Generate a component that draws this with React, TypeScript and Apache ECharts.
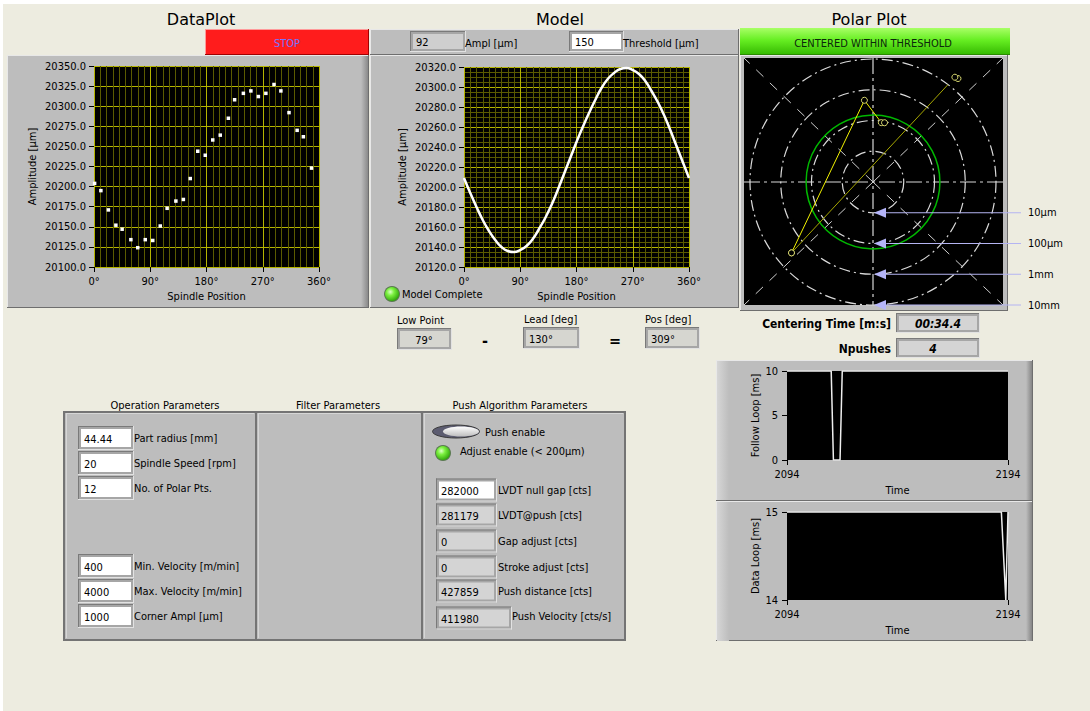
import React, { useEffect, useRef } from "react";
import * as echarts from "echarts";

const FONT = "'DejaVu Sans Condensed', 'DejaVu Sans', sans-serif";
const TITLE_FONT = "'DejaVu Sans', sans-serif";

// ---- data ----
// measured radial amplitude (µm) per spindle position (deg)
const measuredDeg = [1, 11, 23, 35, 45, 59, 70, 82, 94, 106, 117, 131, 143, 154, 166, 178, 190, 202, 215, 225, 239, 251, 263, 275, 288, 299, 312, 325, 335, 348];
const measuredAmp = [20204, 20195, 20171, 20152, 20147, 20134, 20124, 20134, 20133, 20151, 20173, 20182, 20184, 20210, 20244, 20239, 20258, 20264, 20285, 20308, 20316, 20319, 20312, 20316, 20327, 20319, 20292, 20270, 20262, 20223];

// fitted eccentricity model
const modelDeg = [0, 10, 20, 30, 40, 50, 60, 70, 80, 90, 100, 110, 120, 130, 140, 150, 160, 170, 180, 190, 200, 210, 220, 230, 240, 250, 260, 270, 280, 290, 300, 310, 320, 330, 340, 350, 360];
const modelAmp = [20209, 20194, 20180, 20167, 20156, 20147, 20140, 20136, 20135, 20137, 20141, 20148, 20158, 20169, 20182, 20197, 20213, 20229, 20245, 20260, 20274, 20287, 20299, 20308, 20314, 20318, 20319, 20317, 20313, 20306, 20296, 20285, 20272, 20257, 20241, 20225, 20209];

const amplUm = 92;
const thresholdUm = 150;
const lowPointDeg = 79;
const leadDeg = 130;
const posDeg = 309;
const centeringTime = "00:34.4";
const nPushes = 4;

// polar history of the part centre: radius (µm), angle (deg)
const earlierRadius = [22600, 21100, 3250];
const earlierAngle = [50.6, 52, 221];
const recentRadius = [3250, 470, 89, 92];
const recentAngle = [221, 96, 82, 79];

const ringValues = [10, 100, 1000, 10000];
const ringLabels = ["10µm", "100µm", "1mm", "10mm"];

// loop timing traces
const followTime = [2094, 2114, 2115, 2118, 2119, 2194];
const followMs = [10, 10, 0, 0, 10, 10];
const dataTime = [2094, 2191, 2193, 2194];
const dataMs = [15, 15, 14, 15];
const timeTicks = [2094, 2194];

const opValues = ["44.44", "20", "12", "400", "4000", "1000"];
const opLabels = ["Part radius [mm]", "Spindle Speed [rpm]", "No. of Polar Pts.", "Min. Velocity [m/min]", "Max. Velocity [m/min]", "Corner Ampl [µm]"];
const pushValues = ["282000", "281179", "0", "0", "427859", "411980"];
const pushLabels = ["LVDT null gap [cts]", "LVDT@push [cts]", "Gap adjust [cts]", "Stroke adjust [cts]", "Push distance [cts]", "Push Velocity [cts/s]"];

// ---- layout / style ----
const PAGE_BG = "#EDECE0";
const PANEL = "#BDBDBD";
const POLAR_CENTER = [873, 182];
const POLAR_RADIUS = 123;
const OP_ROW_Y = [438, 463, 488, 566, 591, 616];
const PUSH_ROW_Y = [490, 515, 541, 567, 591, 618];

const zip = (a: number[], b: number[]) => a.map((v, i) => [v, b[i]]);

function rect(x: number, y: number, w: number, h: number, fill: any, z = -10, extra: any = {}) {
  return { type: "rect", silent: true, z, shape: { x, y, width: w, height: h }, style: { fill, ...extra } };
}
function line(x1: number, y1: number, x2: number, y2: number, stroke: string, lw = 1, z = -9, dash?: number[]) {
  return { type: "line", silent: true, z, shape: { x1, y1, x2, y2 }, style: { stroke, lineWidth: lw, lineDash: dash } };
}
function txt(x: number, y: number, text: string, size = 11, o: any = {}) {
  const align = o.align || "left";
  return {
    type: "text", silent: true, z: o.z ?? 6, x, y,
    style: {
      text, fill: o.color || "#000",
      font: `${o.italic ? "italic " : ""}${o.bold ? "bold " : ""}${size}px ${o.family || FONT}`,
      textAlign: align, textVerticalAlign: "middle", align, verticalAlign: "middle",
    },
  };
}
function raised(x: number, y: number, w: number, h: number, fill: any = PANEL, z = -10) {
  return [
    rect(x, y, w, h, fill, z),
    line(x, y + 0.5, x + w, y + 0.5, "#E8E8E8", 1, z + 1),
    line(x + 0.5, y, x + 0.5, y + h, "#E8E8E8", 1, z + 1),
    line(x, y + h - 0.5, x + w, y + h - 0.5, "#6E6E6E", 1, z + 1),
    line(x + w - 0.5, y, x + w - 0.5, y + h, "#6E6E6E", 1, z + 1),
  ];
}
function field(x: number, y: number, w: number, h: number, fill: string, z = -6) {
  return [
    rect(x - 3, y - 3, w + 6, h + 6, "#A6A6A6", z),
    line(x - 3, y - 2.5, x + w + 3, y - 2.5, "#7A7A7A", 1, z + 1),
    line(x - 2.5, y - 3, x - 2.5, y + h + 3, "#7A7A7A", 1, z + 1),
    line(x - 3, y + h + 2.5, x + w + 3, y + h + 2.5, "#E2E2E2", 1, z + 1),
    line(x + w + 2.5, y - 3, x + w + 2.5, y + h + 3, "#E2E2E2", 1, z + 1),
    rect(x, y, w, h, fill, z + 2),
  ];
}
function led(cx: number, cy: number, r: number) {
  return [
    { type: "circle", silent: true, z: 4, shape: { cx, cy, r: r + 1 }, style: { fill: "#5A7A50" } },
    {
      type: "circle", silent: true, z: 5, shape: { cx, cy, r },
      style: {
        fill: new echarts.graphic.RadialGradient(0.38, 0.35, 0.75, [
          { offset: 0, color: "#DDFFC8" },
          { offset: 0.35, color: "#7CF040" },
          { offset: 1, color: "#239A00" },
        ]),
      },
    },
  ];
}

function buildGraphics(extra: any[]) {
  const g: any[] = [];
  g.push(rect(0, 0, 1090, 711, "#FFFFFF", -30));
  g.push(rect(3, 4, 1087, 707, PAGE_BG, -29));

  // titles
  g.push(txt(201, 19, "DataPlot", 16, { align: "center", family: TITLE_FONT }));
  g.push(txt(560, 19, "Model", 16, { align: "center", family: TITLE_FONT }));
  g.push(txt(869, 19, "Polar Plot", 16, { align: "center", family: TITLE_FONT }));

  // DataPlot panel + STOP button
  g.push(...raised(7, 55, 362, 253));
  g.push(rect(361, 56, 7, 251, new echarts.graphic.LinearGradient(0, 0, 1, 0, [
    { offset: 0, color: "#BDBDBD" }, { offset: 1, color: "#8A8A8A" },
  ]), -8));
  g.push(rect(205, 29, 164, 26, "#FF1C1C", -8));
  g.push(line(205, 29.5, 369, 29.5, "#FF9A9A", 1, -7));
  g.push(line(205.5, 29, 205.5, 55, "#FF9A9A", 1, -7));
  g.push(line(205, 54.5, 369, 54.5, "#A00000", 1, -7));
  g.push(line(368.5, 29, 368.5, 55, "#A00000", 1, -7));
  g.push(txt(287, 43, "STOP", 11, { align: "center", color: "#7474FF" }));

  // Model panel with its parameter bar
  g.push(...raised(370, 29, 369, 26));
  g.push(...raised(370, 55, 369, 253));
  g.push(...field(413, 34, 50, 15, "#CFCFCF"));
  g.push(txt(416, 42, String(amplUm), 11));
  g.push(txt(465, 43, "Ampl [µm]", 11));
  g.push(...field(572, 34, 49, 15, "#FFFFFF"));
  g.push(txt(575, 42, String(thresholdUm), 11));
  g.push(txt(623, 43, "Threshold [µm]", 11));
  g.push(...led(392, 294, 7));
  g.push(txt(402, 294, "Model Complete", 11));

  // Polar panel
  g.push(rect(740, 28, 270, 27, new echarts.graphic.LinearGradient(0, 0, 0, 1, [
    { offset: 0, color: "#A8FF66" }, { offset: 0.45, color: "#66EE22" }, { offset: 1, color: "#33B800" },
  ]), -8));
  g.push(line(740, 54.5, 1010, 54.5, "#2A8A00", 1, -7));
  g.push(txt(873, 43, "CENTERED WITHIN THRESHOLD", 11, { align: "center", color: "#0C280C" }));
  g.push(...raised(740, 55, 268, 256));
  g.push(rect(744, 58, 259, 247, "#000000", -5));
  const [pcx, pcy] = POLAR_CENTER;
  const axisDash = [16, 4, 3, 4];
  g.push(line(744, pcy, 1003, pcy, "#D8D8D8", 1.2, -1, axisDash));
  g.push(line(pcx, 58, pcx, 305, "#D8D8D8", 1.2, -1, axisDash));
  [[744, 58], [1003, 58], [744, 305], [1003, 305]].forEach(([x, y]) => {
    g.push(line(pcx, pcy, x, y, "#CFCFCF", 1, -1, [10, 9]));
  });

  // Low point - lead = position
  g.push(txt(397, 320, "Low Point", 11));
  g.push(...field(400, 331, 49, 16, "#D6D6D0"));
  g.push(txt(424, 340, `${lowPointDeg}°`, 11, { align: "center" }));
  g.push(txt(485, 340, "-", 16, { align: "center", bold: true }));
  g.push(txt(524, 319, "Lead [deg]", 11));
  g.push(...field(526, 330, 51, 16, "#D6D6D0"));
  g.push(txt(529, 339, `${leadDeg}°`, 11));
  g.push(txt(615, 340, "=", 16, { align: "center", bold: true }));
  g.push(txt(645, 319, "Pos [deg]", 11));
  g.push(...field(648, 330, 49, 16, "#D6D6D0"));
  g.push(txt(651, 339, `${posDeg}°`, 11));

  g.push(txt(891, 324, "Centering Time [m:s]", 12, { align: "right", bold: true }));
  g.push(...field(899, 316, 78, 14, "#D4D4D4"));
  g.push(txt(938, 324, centeringTime, 12, { align: "center", bold: true, italic: true }));
  g.push(txt(891, 349, "Npushes", 12, { align: "right", bold: true }));
  g.push(...field(899, 341, 78, 14, "#D4D4D4"));
  g.push(txt(933, 349, String(nPushes), 12, { align: "center", bold: true, italic: true }));

  // parameter clusters
  g.push(txt(165, 405, "Operation Parameters", 11, { align: "center" }));
  g.push(txt(338, 405, "Filter Parameters", 11, { align: "center" }));
  g.push(txt(520, 405, "Push Algorithm Parameters", 11, { align: "center" }));
  [[64, 192], [256, 166], [422, 203]].forEach(([x, w]) => {
    g.push(rect(x, 412, w, 228, PANEL, -10, { stroke: "#747474", lineWidth: 2 }));
    g.push(line(x + 2, 413.5, x + w - 2, 413.5, "#D6D6D6", 1, -9));
    g.push(line(x + 2.5, 413, x + 2.5, 638, "#D6D6D6", 1, -9));
  });
  opValues.forEach((v, i) => {
    const y = OP_ROW_Y[i];
    g.push(...field(81, y - 9, 50, 18, "#FFFFFF"));
    g.push(txt(84, y + 1, v, 11));
    g.push(txt(134, y, opLabels[i], 11));
  });
  // push enable switch
  g.push({ type: "ellipse", silent: true, z: 3, shape: { cx: 456, cy: 431.5, rx: 23.5, ry: 6.5 }, style: { fill: "#5C5C70", stroke: "#3A3A3A", lineWidth: 1 } });
  g.push({
    type: "ellipse", silent: true, z: 4, shape: { cx: 461, cy: 431.5, rx: 18, ry: 5 },
    style: { fill: new echarts.graphic.LinearGradient(0, 0, 0, 1, [{ offset: 0, color: "#FFFFFF" }, { offset: 1, color: "#BEBEBE" }]) },
  });
  g.push(txt(485, 432, "Push enable", 11));
  g.push(...led(443, 453, 7));
  g.push(txt(460, 451, "Adjust enable (< 200µm)", 11));
  pushValues.forEach((v, i) => {
    const y = PUSH_ROW_Y[i];
    const last = i === pushValues.length - 1;
    g.push(...field(439, y - 8.5, last ? 70 : 55, 17, i === 0 ? "#FFFFFF" : "#D4D4D4"));
    g.push(txt(441, y + 1, v, 11));
    g.push(txt(last ? 512 : 498, last ? y - 2 : y, pushLabels[i], 11));
  });

  // loop timing panels
  g.push(...raised(716, 360, 317, 141));
  g.push(...raised(716, 501, 317, 140));
  [360, 501].forEach((y) => {
    g.push(rect(717, y + 1, 12, 139, new echarts.graphic.LinearGradient(0, 0, 1, 0, [
      { offset: 0, color: "#D6D6D6" }, { offset: 1, color: "#BDBDBD" },
    ]), -8));
    g.push(rect(1026, y + 1, 6, 139, new echarts.graphic.LinearGradient(0, 0, 1, 0, [
      { offset: 0, color: "#BDBDBD" }, { offset: 1, color: "#858585" },
    ]), -8));
  });

  return g.concat(extra);
}

function buildOption(extra: any[]) {
  const font = { color: "#000", fontSize: 11, fontFamily: FONT };
  const tick = { show: true, length: 5, lineStyle: { color: "#000", width: 1 } };
  const major = { show: true, lineStyle: { color: "#B4B400", width: 1 } };
  const minor = { show: true, lineStyle: { color: "#5A5A00", width: 1 } };
  const deg = (v: number) => `${v}°`;
  const fixed1 = (v: number) => v.toFixed(1);
  const plain = (v: number) => String(v);
  const plainGrid = { show: true, backgroundColor: "#000", borderWidth: 0 };
  const polarMarker = { color: "#000000", borderColor: "#D8D870", borderWidth: 1 };

  return {
    animation: false,
    backgroundColor: "#FFFFFF",
    textStyle: { fontFamily: FONT },
    grid: [
      { left: 94, top: 66, width: 225, height: 201, ...plainGrid },
      { left: 464, top: 67, width: 225, height: 200, ...plainGrid },
      { left: 787, top: 371, width: 221, height: 89, ...plainGrid },
      { left: 787, top: 512, width: 221, height: 88, ...plainGrid },
    ],
    xAxis: [
      {
        gridIndex: 0, type: "value", min: 0, max: 360, interval: 90,
        axisLine: { show: false }, axisTick: tick,
        axisLabel: { ...font, margin: 9, formatter: deg },
        splitLine: major, minorTick: { show: false, splitNumber: 9 }, minorSplitLine: minor,
        name: "Spindle Position", nameLocation: "middle", nameGap: 24, nameTextStyle: font,
      },
      {
        gridIndex: 1, type: "value", min: 0, max: 360, interval: 90,
        axisLine: { show: false }, axisTick: tick,
        axisLabel: { ...font, margin: 9, formatter: deg },
        splitLine: major, minorTick: { show: false, splitNumber: 9 }, minorSplitLine: minor,
        name: "Spindle Position", nameLocation: "middle", nameGap: 24, nameTextStyle: font,
      },
      {
        gridIndex: 2, type: "value", min: 2094, max: 2194,
        axisLine: { show: false },
        axisTick: { ...tick, customValues: timeTicks },
        axisLabel: { ...font, margin: 9, customValues: timeTicks, formatter: plain },
        splitLine: { show: false },
        name: "Time", nameLocation: "middle", nameGap: 25, nameTextStyle: font,
      },
      {
        gridIndex: 3, type: "value", min: 2094, max: 2194,
        axisLine: { show: false },
        axisTick: { ...tick, customValues: timeTicks },
        axisLabel: { ...font, margin: 9, customValues: timeTicks, formatter: plain },
        splitLine: { show: false },
        name: "Time", nameLocation: "middle", nameGap: 25, nameTextStyle: font,
      },
    ],
    yAxis: [
      {
        gridIndex: 0, type: "value", min: 20100, max: 20350, interval: 25,
        axisLine: { show: false }, axisTick: tick,
        axisLabel: { ...font, margin: 8, formatter: fixed1 },
        splitLine: major,
        name: "Amplitude [µm]", nameLocation: "middle", nameRotate: 90, nameGap: 56, nameTextStyle: font,
      },
      {
        gridIndex: 1, type: "value", min: 20120, max: 20320, interval: 20,
        axisLine: { show: false }, axisTick: tick,
        axisLabel: { ...font, margin: 8, formatter: fixed1 },
        splitLine: major, minorTick: { show: false, splitNumber: 4 }, minorSplitLine: minor,
        name: "Amplitude [µm]", nameLocation: "middle", nameRotate: 90, nameGap: 56, nameTextStyle: font,
      },
      {
        gridIndex: 2, type: "value", min: 0, max: 10, interval: 5,
        axisLine: { show: false }, axisTick: tick,
        axisLabel: { ...font, margin: 9 },
        splitLine: { show: false },
        name: "Follow Loop [ms]", nameLocation: "middle", nameRotate: 90, nameGap: 26, nameTextStyle: font,
      },
      {
        gridIndex: 3, type: "value", min: 14, max: 15, interval: 1,
        axisLine: { show: false }, axisTick: tick,
        axisLabel: { ...font, margin: 9 },
        splitLine: { show: false },
        name: "Data Loop [ms]", nameLocation: "middle", nameRotate: 90, nameGap: 26, nameTextStyle: font,
      },
    ],
    polar: { center: POLAR_CENTER, radius: POLAR_RADIUS },
    radiusAxis: {
      type: "log", logBase: 10, min: 1, max: 10000,
      axisLine: { show: false }, axisTick: { show: false }, axisLabel: { show: false },
      splitLine: { show: true, lineStyle: { color: "#DADADA", width: 1.2, type: [11, 4, 2, 4] } },
    },
    angleAxis: {
      type: "value", min: 0, max: 360, startAngle: 0, clockwise: false,
      axisLine: { show: false }, axisTick: { show: false }, axisLabel: { show: false },
      splitLine: { show: false },
    },
    series: [
      {
        type: "scatter", xAxisIndex: 0, yAxisIndex: 0, clip: false,
        data: zip(measuredDeg, measuredAmp),
        symbol: "rect", symbolSize: 3.5, itemStyle: { color: "#FFFFFF", opacity: 1 },
      },
      {
        type: "line", xAxisIndex: 1, yAxisIndex: 1,
        data: zip(modelDeg, modelAmp), smooth: true, showSymbol: false,
        lineStyle: { color: "#FFFFFF", width: 2.5 },
      },
      {
        type: "line", coordinateSystem: "polar", polarIndex: 0, clip: false,
        data: zip(earlierRadius, earlierAngle),
        symbol: "circle", symbolSize: 6, showAllSymbol: true,
        lineStyle: { color: "#A6A600", width: 1 },
        itemStyle: polarMarker, z: 3,
      },
      {
        type: "line", coordinateSystem: "polar", polarIndex: 0, clip: false,
        data: zip(recentRadius, recentAngle),
        symbol: "circle", symbolSize: 6, showAllSymbol: true,
        lineStyle: { color: "#F2F200", width: 1 },
        itemStyle: polarMarker, z: 4,
      },
      {
        type: "line", xAxisIndex: 2, yAxisIndex: 2,
        data: zip(followTime, followMs), showSymbol: false,
        lineStyle: { color: "#EEEEEE", width: 1.5 },
      },
      {
        type: "line", xAxisIndex: 3, yAxisIndex: 3,
        data: zip(dataTime, dataMs), showSymbol: false,
        lineStyle: { color: "#EEEEEE", width: 1.5 },
      },
    ],
    graphic: buildGraphics(extra),
  };
}

export default function App() {
  const ref = useRef<HTMLDivElement>(null);
  useEffect(() => {
    const chart = echarts.init(ref.current!, null, { renderer: "svg" });
    chart.setOption(buildOption([]));

    // overlays placed through the polar coordinate system
    const toPx = (r: number, a: number) => chart.convertToPixel({ seriesIndex: 2 }, [r, a]) as number[];
    const c = toPx(1, 0);
    const extra: any[] = [];
    const t = toPx(thresholdUm, 90);
    extra.push({
      type: "circle", silent: true, z: 3,
      shape: { cx: c[0], cy: c[1], r: Math.hypot(t[0] - c[0], t[1] - c[1]) },
      style: { fill: "none", stroke: "#00B800", lineWidth: 1.5 },
    });
    ringValues.forEach((v, i) => {
      const p = toPx(v, 270);
      const y = Math.min(p[1], 305);
      extra.push(line(p[0] + 12, y, 1021, y, "#B4B4F2", 1, 8));
      extra.push({
        type: "polygon", silent: true, z: 9,
        shape: { points: [[p[0] + 1, y], [p[0] + 13, y - 5], [p[0] + 13, y + 5]] },
        style: { fill: "#B4B4F8" },
      });
      extra.push(txt(1028, y, ringLabels[i], 11));
    });
    chart.setOption(buildOption(extra), true);
    return () => chart.dispose();
  }, []);
  return <div ref={ref} style={{ position: "fixed", left: 0, top: 0, width: 1090, height: 711 }} />;
}
